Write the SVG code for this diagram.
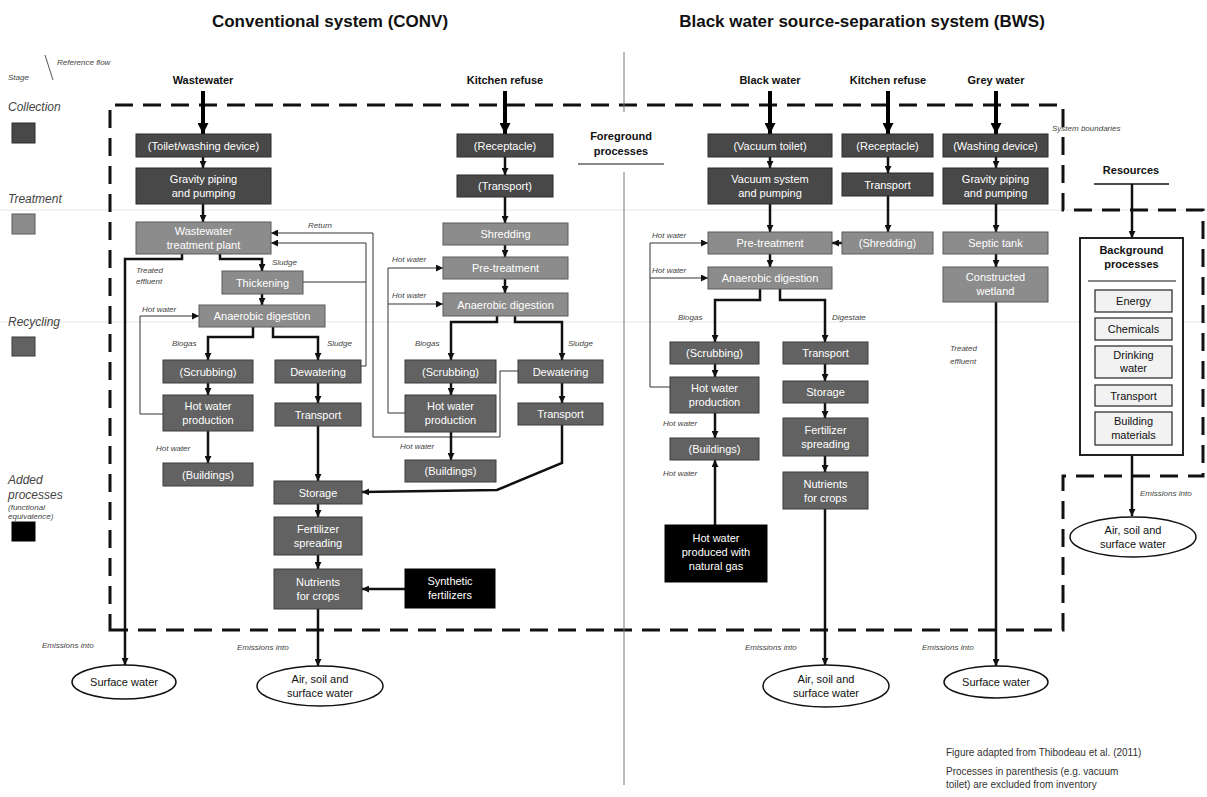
<svg xmlns="http://www.w3.org/2000/svg" width="1207" height="797" viewBox="0 0 1207 797">
<defs>
<style>
text{font-family:"Liberation Sans",Arial,sans-serif}
.c{fill:#484848;stroke:#2a2a2a;stroke-width:1}
.t{fill:#8c8c8c;stroke:#5a5a5a;stroke-width:1}
.r{fill:#626262;stroke:#3a3a3a;stroke-width:1}
.a{fill:#000;stroke:#000;stroke-width:1}
.nt{font-size:11px;fill:#fff;text-anchor:middle}
.bt{font-size:11px;fill:#111;text-anchor:middle}
.hd{font-size:11px;font-weight:bold;fill:#111;text-anchor:middle}
.ti{font-size:17px;font-weight:bold;fill:#111;text-anchor:middle}
.lb{font-size:8px;font-style:italic;fill:#444}
.lg{font-size:12px;font-style:italic;fill:#444}
.no{font-size:10px;fill:#333}
.f{fill:none;stroke:#111;stroke-width:2.5}
.th{fill:none;stroke:#333;stroke-width:1}
.in{fill:none;stroke:#000;stroke-width:4}
.bd{fill:none;stroke:#111;stroke-width:3;stroke-dasharray:18 10}
.el{fill:#fff;stroke:#111;stroke-width:1.5}
.bg{fill:#f2f2f2;stroke:#333;stroke-width:1.3}
</style>
<marker id="ah" markerWidth="7" markerHeight="7" refX="7" refY="3.5" orient="auto" markerUnits="userSpaceOnUse"><path d="M0,0 L7,3.5 L0,7 z" fill="#111"/></marker>
<marker id="ahb" markerWidth="11" markerHeight="11" refX="11" refY="5.5" orient="auto" markerUnits="userSpaceOnUse"><path d="M0,0 L11,5.5 L0,11 z" fill="#000"/></marker>
</defs>
<rect width="1207" height="797" fill="#fff"/>

<!-- faint stage separators -->
<g id="separators" stroke="#e6e6e6" stroke-width="1">
<line x1="0" y1="210" x2="1207" y2="210"/>
<line x1="0" y1="322" x2="1207" y2="322"/>
</g>

<!-- titles -->
<g id="titles">
<text class="ti" x="330" y="27">Conventional system (CONV)</text>
<text class="ti" x="862" y="27">Black water source-separation system (BWS)</text>
</g>

<!-- legend -->
<g id="legend">
<line x1="45" y1="55" x2="53" y2="80" stroke="#555" stroke-width="1"/>
<text class="lb" x="57" y="65">Reference flow</text>
<text class="lb" x="8" y="80">Stage</text>
<text class="lg" x="8" y="111">Collection</text>
<rect class="c" x="12" y="123" width="23" height="20"/>
<text class="lg" x="8" y="203">Treatment</text>
<rect class="t" x="12" y="214" width="23" height="20"/>
<text class="lg" x="8" y="326">Recycling</text>
<rect class="r" x="12" y="337" width="23" height="19"/>
<text class="lg" x="8" y="484">Added</text>
<text class="lg" x="8" y="499">processes</text>
<text class="lb" x="8" y="510">(functional</text>
<text class="lb" x="8" y="519">equivalence)</text>
<rect class="a" x="12" y="522" width="23" height="19"/>
</g>

<!-- boundaries -->
<g id="boundary">
<path class="bd" d="M110,630 H1063 V476 H1203 V210 H1063 V105 H110 Z"/>
<text class="lb" x="1052" y="131" font-size="7">System boundaries</text>
<line x1="624" y1="52" x2="624" y2="112" stroke="#777" stroke-width="1"/>
<line x1="624" y1="172" x2="624" y2="785" stroke="#777" stroke-width="1"/>
</g>

<g id="foreground">
<text class="hd" x="621" y="140">Foreground</text>
<text class="hd" x="621" y="155">processes</text>
<line x1="578" y1="164" x2="664" y2="164" stroke="#111" stroke-width="1.2"/>
</g>

<!-- input labels -->
<g id="inputs">
<text class="hd" x="203" y="84">Wastewater</text>
<text class="hd" x="505" y="84">Kitchen refuse</text>
<text class="hd" x="770" y="84">Black water</text>
<text class="hd" x="888" y="84">Kitchen refuse</text>
<text class="hd" x="996" y="84">Grey water</text>
</g>

<!-- connectors -->
<g id="connectors">
<!-- input arrows -->
<line class="in" x1="203" y1="91" x2="203" y2="134" marker-end="url(#ahb)"/>
<line class="in" x1="505" y1="91" x2="505" y2="134" marker-end="url(#ahb)"/>
<line class="in" x1="770" y1="91" x2="770" y2="134" marker-end="url(#ahb)"/>
<line class="in" x1="888" y1="91" x2="888" y2="134" marker-end="url(#ahb)"/>
<line class="in" x1="996" y1="91" x2="996" y2="134" marker-end="url(#ahb)"/>

<!-- CONV wastewater -->
<line class="f" x1="203" y1="157" x2="203" y2="168" marker-end="url(#ah)"/>
<line class="f" x1="203" y1="204" x2="203" y2="222" marker-end="url(#ah)"/>
<polyline class="f" points="182,254 182,259 125,259 125,665" marker-end="url(#ah)"/>
<polyline class="f" points="220,254 220,259 262,259 262,271" marker-end="url(#ah)"/>
<line class="f" x1="262" y1="294" x2="262" y2="305" marker-end="url(#ah)"/>
<polyline class="f" points="253,327 253,337 208,337 208,360" marker-end="url(#ah)"/>
<polyline class="f" points="273,327 273,337 318,337 318,360" marker-end="url(#ah)"/>
<line class="f" x1="208" y1="383" x2="208" y2="395" marker-end="url(#ah)"/>
<line class="f" x1="208" y1="431" x2="208" y2="463" marker-end="url(#ah)"/>
<line class="f" x1="318" y1="383" x2="318" y2="403" marker-end="url(#ah)"/>
<line class="f" x1="318" y1="426" x2="318" y2="481" marker-end="url(#ah)"/>
<line class="f" x1="318" y1="504" x2="318" y2="517" marker-end="url(#ah)"/>
<line class="f" x1="318" y1="555" x2="318" y2="569" marker-end="url(#ah)"/>
<line class="f" x1="318" y1="609" x2="318" y2="666" marker-end="url(#ah)"/>
<line class="f" x1="405" y1="589" x2="362" y2="589" marker-end="url(#ah)"/>
<polyline class="th" points="163,414 140,414 140,316 199,316" marker-end="url(#ah)"/>
<polyline class="th" points="303,282 366,282"/>
<polyline class="th" points="361,366 366,366 366,243 271,243" marker-end="url(#ah)"/>
<polyline class="th" points="518,371 500,371 500,437 373,437 373,233 271,233" marker-end="url(#ah)"/>

<!-- CONV kitchen -->
<line class="f" x1="505" y1="157" x2="505" y2="175" marker-end="url(#ah)"/>
<line class="f" x1="505" y1="197" x2="505" y2="223" marker-end="url(#ah)"/>
<line class="f" x1="505" y1="245" x2="505" y2="257" marker-end="url(#ah)"/>
<line class="f" x1="505" y1="279" x2="505" y2="293" marker-end="url(#ah)"/>
<polyline class="f" points="497,316 497,322 451,322 451,360" marker-end="url(#ah)"/>
<polyline class="f" points="515,316 515,322 562,322 562,360" marker-end="url(#ah)"/>
<line class="f" x1="451" y1="383" x2="451" y2="395" marker-end="url(#ah)"/>
<line class="f" x1="451" y1="432" x2="451" y2="460" marker-end="url(#ah)"/>
<line class="f" x1="562" y1="383" x2="562" y2="403" marker-end="url(#ah)"/>
<polyline class="f" points="562,425 562,463 497,490 362,492" marker-end="url(#ah)"/>
<polyline class="th" points="405,413 388,413 388,268 443,268" marker-end="url(#ah)"/>
<line class="th" x1="388" y1="304" x2="443" y2="304" marker-end="url(#ah)"/>

<!-- BWS -->
<line class="f" x1="770" y1="157" x2="770" y2="168" marker-end="url(#ah)"/>
<line class="f" x1="770" y1="204" x2="770" y2="232" marker-end="url(#ah)"/>
<line class="f" x1="770" y1="254" x2="770" y2="267" marker-end="url(#ah)"/>
<line class="f" x1="888" y1="157" x2="888" y2="173" marker-end="url(#ah)"/>
<line class="f" x1="888" y1="196" x2="888" y2="232" marker-end="url(#ah)"/>
<line class="f" x1="842" y1="243" x2="832" y2="243" marker-end="url(#ah)"/>
<line class="f" x1="996" y1="157" x2="996" y2="168" marker-end="url(#ah)"/>
<line class="f" x1="996" y1="204" x2="996" y2="232" marker-end="url(#ah)"/>
<line class="f" x1="996" y1="254" x2="996" y2="267" marker-end="url(#ah)"/>
<line class="f" x1="996" y1="302" x2="996" y2="666" marker-end="url(#ah)"/>
<polyline class="f" points="760,289 760,300 715,300 715,342" marker-end="url(#ah)"/>
<polyline class="f" points="780,289 780,300 825,300 825,342" marker-end="url(#ah)"/>
<line class="f" x1="715" y1="364" x2="715" y2="377" marker-end="url(#ah)"/>
<line class="f" x1="715" y1="413" x2="715" y2="438" marker-end="url(#ah)"/>
<line class="f" x1="715" y1="525" x2="715" y2="460" marker-end="url(#ah)"/>
<line class="f" x1="825" y1="364" x2="825" y2="381" marker-end="url(#ah)"/>
<line class="f" x1="825" y1="403" x2="825" y2="418" marker-end="url(#ah)"/>
<line class="f" x1="825" y1="456" x2="825" y2="472" marker-end="url(#ah)"/>
<line class="f" x1="825" y1="509" x2="825" y2="665" marker-end="url(#ah)"/>
<polyline class="th" points="670,387 650,387 650,243 708,243" marker-end="url(#ah)"/>
<line class="th" x1="650" y1="278" x2="708" y2="278" marker-end="url(#ah)"/>

<!-- resources -->
<line class="f" x1="1132" y1="184" x2="1132" y2="238" marker-end="url(#ah)"/>
<line class="f" x1="1132" y1="455" x2="1132" y2="516" marker-end="url(#ah)"/>
</g>

<!-- flow labels -->
<g id="flowlabels">
<text class="lb" x="308" y="228">Return</text>
<text class="lb" x="272" y="265">Sludge</text>
<text class="lb" x="136" y="273">Treated</text>
<text class="lb" x="136" y="284">effluent</text>
<text class="lb" x="142" y="312">Hot water</text>
<text class="lb" x="172" y="346">Biogas</text>
<text class="lb" x="327" y="346">Sludge</text>
<text class="lb" x="156" y="451">Hot water</text>
<text class="lb" x="392" y="262">Hot water</text>
<text class="lb" x="392" y="298">Hot water</text>
<text class="lb" x="415" y="346">Biogas</text>
<text class="lb" x="568" y="346">Sludge</text>
<text class="lb" x="400" y="449">Hot water</text>
<text class="lb" x="652" y="238">Hot water</text>
<text class="lb" x="652" y="273">Hot water</text>
<text class="lb" x="678" y="320">Biogas</text>
<text class="lb" x="832" y="320">Digestate</text>
<text class="lb" x="663" y="426">Hot water</text>
<text class="lb" x="663" y="476">Hot water</text>
<text class="lb" x="950" y="351">Treated</text>
<text class="lb" x="950" y="364">effluent</text>
<text class="lb" x="42" y="648">Emissions into</text>
<text class="lb" x="237" y="650">Emissions into</text>
<text class="lb" x="745" y="650">Emissions into</text>
<text class="lb" x="922" y="650">Emissions into</text>
<text class="lb" x="1140" y="496">Emissions into</text>
</g>

<!-- CONV nodes -->
<g id="conv-toilet"><rect class="c" x="136" y="134" width="135" height="23"/><text class="nt" x="203.5" y="149.5">(Toilet/washing device)</text></g>
<g id="conv-gravity"><rect class="c" x="136" y="168" width="135" height="36"/><text class="nt" x="203.5" y="183">Gravity piping</text><text class="nt" x="203.5" y="197">and pumping</text></g>
<g id="conv-wwtp"><rect class="t" x="136" y="222" width="135" height="32"/><text class="nt" x="203.5" y="235">Wastewater</text><text class="nt" x="203.5" y="249">treatment plant</text></g>
<g id="conv-thickening"><rect class="t" x="222" y="271" width="81" height="23"/><text class="nt" x="262.5" y="286.5">Thickening</text></g>
<g id="conv-ad"><rect class="t" x="199" y="305" width="126" height="22"/><text class="nt" x="262" y="320">Anaerobic digestion</text></g>
<g id="conv-scrubbing"><rect class="r" x="163" y="360" width="90" height="23"/><text class="nt" x="208" y="375.5">(Scrubbing)</text></g>
<g id="conv-dewatering"><rect class="r" x="275" y="360" width="86" height="23"/><text class="nt" x="318" y="375.5">Dewatering</text></g>
<g id="conv-hotwater"><rect class="r" x="163" y="395" width="90" height="36"/><text class="nt" x="208" y="410">Hot water</text><text class="nt" x="208" y="424">production</text></g>
<g id="conv-transport"><rect class="r" x="275" y="403" width="86" height="23"/><text class="nt" x="318" y="418.5">Transport</text></g>
<g id="conv-buildings"><rect class="r" x="163" y="463" width="90" height="23"/><text class="nt" x="208" y="478.5">(Buildings)</text></g>
<g id="conv-storage"><rect class="r" x="274" y="481" width="88" height="23"/><text class="nt" x="318" y="496.5">Storage</text></g>
<g id="conv-spreading"><rect class="r" x="274" y="517" width="88" height="38"/><text class="nt" x="318" y="533">Fertilizer</text><text class="nt" x="318" y="547">spreading</text></g>
<g id="conv-nutrients"><rect class="r" x="274" y="569" width="88" height="40"/><text class="nt" x="318" y="586">Nutrients</text><text class="nt" x="318" y="600">for crops</text></g>
<g id="conv-synthetic"><rect class="a" x="405" y="569" width="90" height="39"/><text class="nt" x="450" y="585">Synthetic</text><text class="nt" x="450" y="599">fertilizers</text></g>

<!-- CONV kitchen nodes -->
<g id="convk-receptacle"><rect class="c" x="457" y="134" width="96" height="23"/><text class="nt" x="505" y="149.5">(Receptacle)</text></g>
<g id="convk-transport1"><rect class="c" x="457" y="175" width="96" height="22"/><text class="nt" x="505" y="190">(Transport)</text></g>
<g id="convk-shredding"><rect class="t" x="443" y="223" width="125" height="22"/><text class="nt" x="505.5" y="238">Shredding</text></g>
<g id="convk-pretreatment"><rect class="t" x="443" y="257" width="125" height="22"/><text class="nt" x="505.5" y="272">Pre-treatment</text></g>
<g id="convk-ad"><rect class="t" x="443" y="293" width="125" height="23"/><text class="nt" x="505.5" y="308.5">Anaerobic digestion</text></g>
<g id="convk-scrubbing"><rect class="r" x="405" y="360" width="91" height="23"/><text class="nt" x="450.5" y="375.5">(Scrubbing)</text></g>
<g id="convk-dewatering"><rect class="r" x="518" y="360" width="85" height="23"/><text class="nt" x="560.5" y="375.5">Dewatering</text></g>
<g id="convk-hotwater"><rect class="r" x="405" y="395" width="91" height="37"/><text class="nt" x="450.5" y="410">Hot water</text><text class="nt" x="450.5" y="424">production</text></g>
<g id="convk-transport2"><rect class="r" x="518" y="403" width="85" height="22"/><text class="nt" x="560.5" y="418">Transport</text></g>
<g id="convk-buildings"><rect class="r" x="405" y="460" width="91" height="22"/><text class="nt" x="450.5" y="475">(Buildings)</text></g>

<!-- BWS nodes -->
<g id="bws-vacuumtoilet"><rect class="c" x="708" y="134" width="124" height="23"/><text class="nt" x="770" y="149.5">(Vacuum toilet)</text></g>
<g id="bws-vacuumsystem"><rect class="c" x="708" y="168" width="124" height="36"/><text class="nt" x="770" y="183">Vacuum system</text><text class="nt" x="770" y="197">and pumping</text></g>
<g id="bws-receptacle"><rect class="c" x="842" y="134" width="91" height="23"/><text class="nt" x="887.5" y="149.5">(Receptacle)</text></g>
<g id="bws-transport1"><rect class="c" x="842" y="173" width="91" height="23"/><text class="nt" x="887.5" y="188.5">Transport</text></g>
<g id="bws-washing"><rect class="c" x="943" y="134" width="105" height="23"/><text class="nt" x="995.5" y="149.5">(Washing device)</text></g>
<g id="bws-gravity"><rect class="c" x="943" y="168" width="105" height="36"/><text class="nt" x="995.5" y="183">Gravity piping</text><text class="nt" x="995.5" y="197">and pumping</text></g>
<g id="bws-pretreatment"><rect class="t" x="708" y="232" width="124" height="22"/><text class="nt" x="770" y="247">Pre-treatment</text></g>
<g id="bws-shredding"><rect class="t" x="842" y="232" width="91" height="22"/><text class="nt" x="887.5" y="247">(Shredding)</text></g>
<g id="bws-septic"><rect class="t" x="943" y="232" width="105" height="22"/><text class="nt" x="995.5" y="247">Septic tank</text></g>
<g id="bws-ad"><rect class="t" x="708" y="267" width="124" height="22"/><text class="nt" x="770" y="282">Anaerobic digestion</text></g>
<g id="bws-wetland"><rect class="t" x="943" y="267" width="105" height="35"/><text class="nt" x="995.5" y="281">Constructed</text><text class="nt" x="995.5" y="295">wetland</text></g>
<g id="bws-scrubbing"><rect class="r" x="670" y="342" width="89" height="22"/><text class="nt" x="714.5" y="357">(Scrubbing)</text></g>
<g id="bws-transport2"><rect class="r" x="783" y="342" width="85" height="22"/><text class="nt" x="825.5" y="357">Transport</text></g>
<g id="bws-hotwater"><rect class="r" x="670" y="377" width="89" height="36"/><text class="nt" x="714.5" y="392">Hot water</text><text class="nt" x="714.5" y="406">production</text></g>
<g id="bws-storage"><rect class="r" x="783" y="381" width="85" height="22"/><text class="nt" x="825.5" y="396">Storage</text></g>
<g id="bws-buildings"><rect class="r" x="670" y="438" width="89" height="22"/><text class="nt" x="714.5" y="453">(Buildings)</text></g>
<g id="bws-spreading"><rect class="r" x="783" y="418" width="85" height="38"/><text class="nt" x="825.5" y="434">Fertilizer</text><text class="nt" x="825.5" y="448">spreading</text></g>
<g id="bws-nutrients"><rect class="r" x="783" y="472" width="85" height="37"/><text class="nt" x="825.5" y="488">Nutrients</text><text class="nt" x="825.5" y="502">for crops</text></g>
<g id="bws-naturalgas"><rect class="a" x="665" y="525" width="102" height="57"/><text class="nt" x="716" y="542">Hot water</text><text class="nt" x="716" y="556">produced with</text><text class="nt" x="716" y="570">natural gas</text></g>

<!-- emission ellipses -->
<g id="conv-surfacewater"><ellipse class="el" cx="124" cy="682" rx="52" ry="17"/><text class="bt" x="124" y="686">Surface water</text></g>
<g id="conv-airsoil"><ellipse class="el" cx="320" cy="686" rx="63" ry="20"/><text class="bt" x="320" y="683">Air, soil and</text><text class="bt" x="320" y="697">surface water</text></g>
<g id="bws-airsoil"><ellipse class="el" cx="826" cy="686" rx="63" ry="21"/><text class="bt" x="826" y="683">Air, soil and</text><text class="bt" x="826" y="697">surface water</text></g>
<g id="bws-surfacewater"><ellipse class="el" cx="996" cy="682" rx="52" ry="16"/><text class="bt" x="996" y="686">Surface water</text></g>

<!-- resources -->
<g id="resources">
<text class="hd" x="1131" y="174">Resources</text>
<line x1="1094" y1="184" x2="1169" y2="184" stroke="#111" stroke-width="1.5"/>
</g>
<g id="background">
<rect x="1080" y="238" width="103" height="217" fill="#fff" stroke="#222" stroke-width="2"/>
<text class="hd" x="1131.5" y="254">Background</text>
<text class="hd" x="1131.5" y="268">processes</text>
<line x1="1088" y1="281" x2="1176" y2="281" stroke="#111" stroke-width="1.2"/>
<g id="bg-energy"><rect class="bg" x="1095" y="290" width="77" height="22"/><text class="bt" x="1133.5" y="305">Energy</text></g>
<g id="bg-chemicals"><rect class="bg" x="1095" y="318" width="77" height="22"/><text class="bt" x="1133.5" y="333">Chemicals</text></g>
<g id="bg-drinking"><rect class="bg" x="1095" y="346" width="77" height="32"/><text class="bt" x="1133.5" y="359">Drinking</text><text class="bt" x="1133.5" y="372">water</text></g>
<g id="bg-transport"><rect class="bg" x="1095" y="385" width="77" height="21"/><text class="bt" x="1133.5" y="399.5">Transport</text></g>
<g id="bg-building"><rect class="bg" x="1095" y="412" width="77" height="33"/><text class="bt" x="1133.5" y="425">Building</text><text class="bt" x="1133.5" y="439">materials</text></g>
</g>
<g id="bg-airsoil"><ellipse class="el" cx="1133" cy="537" rx="63" ry="20"/><text class="bt" x="1133" y="534">Air, soil and</text><text class="bt" x="1133" y="548">surface water</text></g>

<!-- notes -->
<g id="notes">
<text class="no" x="946" y="756">Figure adapted from Thibodeau et al. (2011)</text>
<text class="no" x="946" y="775">Processes in parenthesis (e.g. vacuum</text>
<text class="no" x="946" y="788">toilet) are excluded from inventory</text>
</g>
</svg>
